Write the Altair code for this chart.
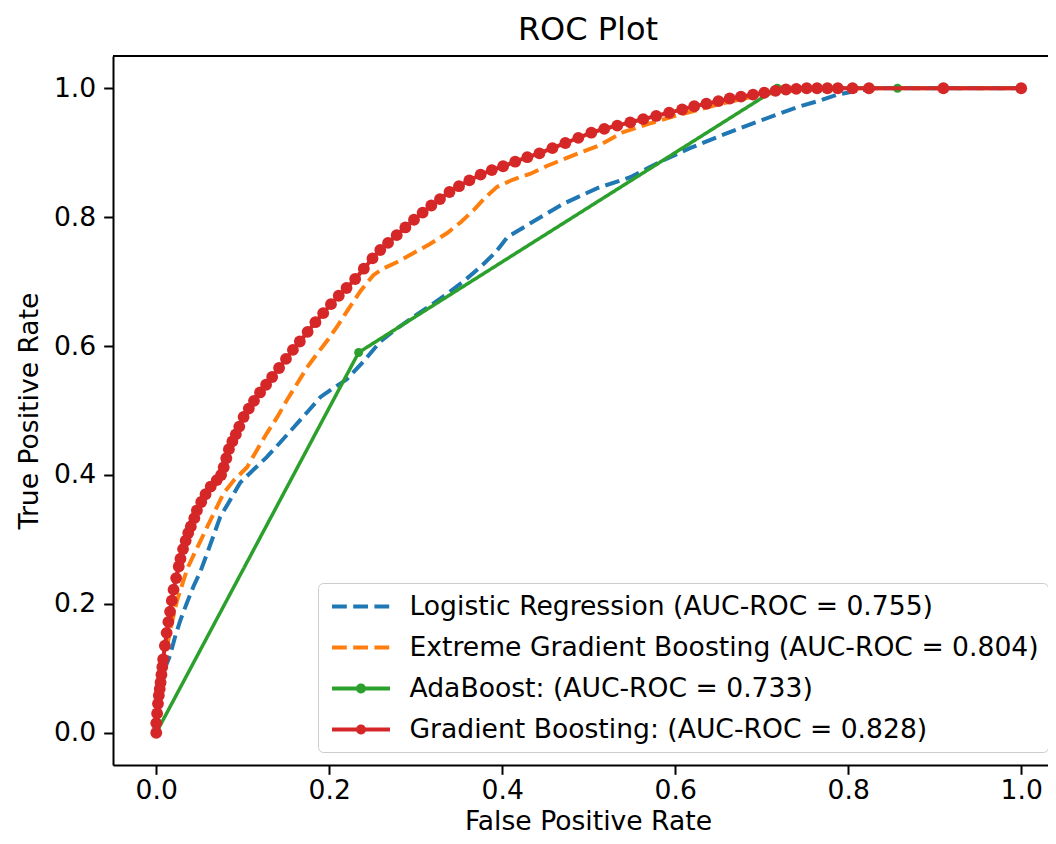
import altair as alt
import pandas as pd

chart_title = "ROC Plot"
models = [
    "Logistic Regression (AUC-ROC = 0.755)",
    "Extreme Gradient Boosting (AUC-ROC = 0.804)",
    "AdaBoost: (AUC-ROC = 0.733)",
    "Gradient Boosting: (AUC-ROC = 0.828)",
]
colors = ["#1f77b4", "#ff7f0e", "#2ca02c", "#d62728"]
dashes = [[14.8, 6.4], [14.8, 6.4], [1, 0], [1, 0]]
ticks = [0.0, 0.2, 0.4, 0.6, 0.8, 1.0]

fpr_lr = [0.000, 0.005, 0.010, 0.016, 0.022, 0.028, 0.035, 0.043, 0.051, 0.059,
          0.066, 0.074, 0.085, 0.097, 0.110, 0.128, 0.143, 0.159, 0.175, 0.190,
          0.205, 0.220, 0.239, 0.259, 0.278, 0.297, 0.316, 0.336, 0.355, 0.375,
          0.392, 0.406, 0.432, 0.471, 0.510, 0.548, 0.586, 0.617, 0.650, 0.683,
          0.715, 0.742, 0.765, 0.787, 0.810, 0.831, 0.900, 1.000]
tpr_lr = [0.000, 0.060, 0.100, 0.120, 0.150, 0.175, 0.200, 0.227, 0.250, 0.279,
          0.305, 0.335, 0.360, 0.388, 0.405, 0.428, 0.450, 0.474, 0.498, 0.521,
          0.535, 0.548, 0.575, 0.607, 0.627, 0.645, 0.662, 0.681, 0.700, 0.723,
          0.745, 0.769, 0.790, 0.821, 0.845, 0.862, 0.888, 0.907, 0.925, 0.942,
          0.958, 0.971, 0.980, 0.990, 0.996, 1.000, 1.000, 1.000]

fpr_xgb = [0.000, 0.004, 0.008, 0.012, 0.017, 0.024, 0.030, 0.036, 0.044, 0.052,
           0.062, 0.070, 0.078, 0.090, 0.105, 0.117, 0.128, 0.140, 0.151, 0.163,
           0.175, 0.186, 0.198, 0.210, 0.221, 0.236, 0.251, 0.262, 0.278, 0.297,
           0.316, 0.336, 0.352, 0.367, 0.380, 0.394, 0.412, 0.432, 0.451, 0.471,
           0.490, 0.510, 0.525, 0.540, 0.570, 0.600, 0.650, 0.700, 0.740, 0.780,
           0.850, 1.000]
tpr_xgb = [0.000, 0.050, 0.090, 0.130, 0.165, 0.205, 0.230, 0.255, 0.278, 0.300,
           0.328, 0.350, 0.372, 0.392, 0.412, 0.440, 0.465, 0.490, 0.516, 0.542,
           0.568, 0.588, 0.609, 0.632, 0.655, 0.685, 0.710, 0.720, 0.730, 0.744,
           0.758, 0.775, 0.792, 0.811, 0.830, 0.847, 0.858, 0.867, 0.879, 0.890,
           0.900, 0.910, 0.921, 0.932, 0.945, 0.957, 0.975, 0.990, 0.997, 1.000,
           1.000, 1.000]

fpr_ada = [0.000, 0.234, 0.718, 0.857, 1.000]
tpr_ada = [0.000, 0.590, 1.000, 1.000, 1.000]

fpr_gb = [0.000, 0.000, 0.001, 0.002, 0.003, 0.004, 0.005, 0.006, 0.007, 0.008,
          0.010, 0.012, 0.014, 0.016, 0.018, 0.020, 0.023, 0.026, 0.028, 0.031,
          0.034, 0.037, 0.040, 0.044, 0.047, 0.052, 0.057, 0.063, 0.070, 0.075,
          0.078, 0.081, 0.084, 0.088, 0.092, 0.096, 0.101, 0.107, 0.113, 0.120,
          0.127, 0.134, 0.142, 0.150, 0.158, 0.166, 0.175, 0.184, 0.193, 0.202,
          0.211, 0.220, 0.230, 0.240, 0.250, 0.259, 0.268, 0.278, 0.288, 0.298,
          0.308, 0.318, 0.328, 0.339, 0.350, 0.362, 0.375, 0.388, 0.401, 0.415,
          0.429, 0.443, 0.458, 0.473, 0.488, 0.503, 0.518, 0.533, 0.548, 0.563,
          0.578, 0.593, 0.608, 0.622, 0.636, 0.650, 0.663, 0.676, 0.690, 0.703,
          0.716, 0.728, 0.740, 0.752, 0.764, 0.776, 0.788, 0.805, 0.824, 0.910,
          1.000]
tpr_gb = [0.000, 0.015, 0.030, 0.045, 0.058, 0.068, 0.078, 0.090, 0.102, 0.114,
          0.135, 0.155, 0.172, 0.188, 0.205, 0.222, 0.240, 0.258, 0.270, 0.285,
          0.298, 0.310, 0.320, 0.333, 0.345, 0.358, 0.370, 0.382, 0.392, 0.400,
          0.412, 0.426, 0.440, 0.452, 0.463, 0.475, 0.490, 0.503, 0.515, 0.528,
          0.540, 0.552, 0.566, 0.580, 0.594, 0.607, 0.622, 0.637, 0.651, 0.665,
          0.678, 0.690, 0.704, 0.720, 0.736, 0.749, 0.760, 0.772, 0.784, 0.796,
          0.807, 0.818, 0.828, 0.839, 0.848, 0.857, 0.866, 0.873, 0.879, 0.886,
          0.893, 0.899, 0.907, 0.915, 0.923, 0.931, 0.937, 0.942, 0.947, 0.952,
          0.957, 0.962, 0.967, 0.972, 0.976, 0.980, 0.984, 0.987, 0.990, 0.993,
          0.996, 0.998, 0.999, 1.000, 1.000, 1.000, 1.000, 1.000, 1.000, 1.000,
          1.000]

# legend glyphs: plain line, or line with a dot in the middle
LINE = "M-0.73,0H3.73"
LINE_DOT = "M-0.73,0H3.73M1.27,0A0.23,0.23 0 1,1 1.73,0A0.23,0.23 0 1,1 1.27,0"
legend_shapes = [LINE, LINE, LINE_DOT, LINE_DOT]


def frame(name, fpr, tpr):
    return pd.DataFrame({"model": name, "fpr": fpr, "tpr": tpr,
                         "step": list(range(len(fpr)))})


series = [(fpr_lr, tpr_lr), (fpr_xgb, tpr_xgb), (fpr_ada, tpr_ada), (fpr_gb, tpr_gb)]
frames = [frame(m, f, t) for m, (f, t) in zip(models, series)]

FONT = "DejaVu Sans"
FS = 26.6
W, H = 935, 709

x_enc = alt.X("fpr:Q",
              scale=alt.Scale(domain=[-0.05, 1.031], nice=False, zero=False),
              axis=alt.Axis(values=ticks, format=".1f", title="False Positive Rate",
                            titleX=475, titleY=64, titleBaseline="alphabetic",
                            labelPadding=3, labelFlush=False))
y_enc = alt.Y("tpr:Q",
              scale=alt.Scale(domain=[-0.05, 1.05], nice=False, zero=False),
              axis=alt.Axis(values=ticks, format=".1f", title="True Positive Rate",
                            titlePadding=10, labelPadding=8, labelFlush=False))

legend = alt.Legend(title=None, orient="none", legendX=205, legendY=527,
                    symbolType=LINE, symbolSize=676, symbolStrokeWidth=4,
                    symbolOpacity=1,
                    labelFont=FONT, labelFontSize=FS, labelColor="black",
                    labelOffset=53, labelLimit=900, rowPadding=12, padding=8.5,
                    fillColor="white", strokeColor="#cccccc", cornerRadius=5)

color_enc = alt.Color("model:N", scale=alt.Scale(domain=models, range=colors),
                      legend=legend)
dash_enc = alt.StrokeDash("model:N", scale=alt.Scale(domain=models, range=dashes),
                          legend=legend)
shape_enc = alt.Shape("model:N", scale=alt.Scale(domain=models, range=legend_shapes),
                      legend=legend)

layers = []
for i, df in enumerate(frames):
    line = alt.Chart(df).mark_line(strokeWidth=4 if i != 2 else 3.5).encode(
        x=x_enc, y=y_enc, color=color_enc, strokeDash=dash_enc,
        order=alt.Order("step:Q"))
    layers.append(line)
    if i >= 2:
        pts = alt.Chart(df).mark_point(filled=True, opacity=1,
                                       size=80 if i == 2 else 140).encode(
            x="fpr:Q", y="tpr:Q", color=alt.value(colors[i]))
        layers.append(pts)

# an empty layer that only carries the legend glyph shapes
legend_df = pd.DataFrame({"model": pd.Series([], dtype=str),
                          "fpr": pd.Series([], dtype=float),
                          "tpr": pd.Series([], dtype=float)})
legend_layer = alt.Chart(legend_df).mark_point(filled=False, opacity=1).encode(
    x="fpr:Q", y="tpr:Q", color=color_enc, strokeDash=dash_enc, shape=shape_enc)
layers.append(legend_layer)

# top spine of the axes frame
top_spine = alt.Chart(frames[0]).mark_rule(color="black", strokeWidth=2).encode(
    x=alt.value(0), x2=alt.value(W), y=alt.value(0))
layers.append(top_spine)

# chart title as a text mark above the plot area
title_mark = alt.Chart(pd.DataFrame({"t": [chart_title]})).mark_text(
    font=FONT, fontSize=32, color="black", align="center", baseline="alphabetic"
).encode(text="t:N", x=alt.value(475), y=alt.value(-16))
layers.append(title_mark)

chart = alt.layer(*layers).properties(
    width=W, height=H,
    autosize=alt.AutoSizeParams(type="none"),
    padding={"left": 105, "top": 48, "right": 0, "bottom": 71},
).configure_view(stroke=None).configure_axis(
    labelFont=FONT, labelFontSize=FS, labelColor="black",
    titleFont=FONT, titleFontSize=FS, titleFontWeight="normal", titleColor="black",
    tickSize=9.3, tickWidth=2, tickColor="black", domainWidth=2, domainColor="black",
    grid=False,
)

chart.save("out.html", embed_options={"renderer": "svg", "actions": False})
